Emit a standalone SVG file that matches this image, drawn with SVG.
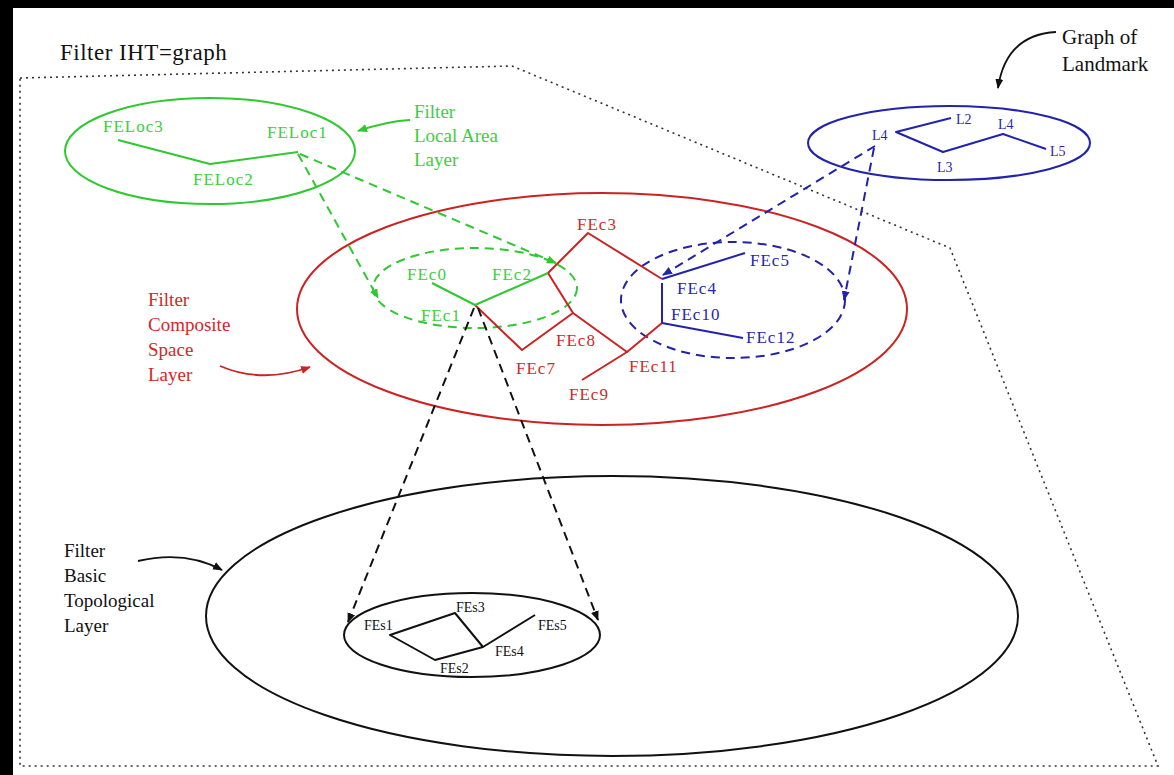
<svg xmlns="http://www.w3.org/2000/svg" width="1174" height="775" viewBox="0 0 1174 775">
  <style>
    text { font-family: "Liberation Serif", "Times New Roman", serif; }
    .lbl { font-size: 19px; }
    .node { font-size: 17px; letter-spacing: 1px; }
    .small { font-size: 14px; }
    .lm { font-size: 14px; }
    .g { fill: #3ccf3c; }
    .r { fill: #d22828; }
    .b { fill: #2626b0; }
    .k { fill: #111; }
    .gs { stroke: #30c830; }
    .rs { stroke: #cc2222; }
    .bs { stroke: #2222aa; }
    .ks { stroke: #111; }
    .layer { fill: none; stroke-width: 2; }
    .edge { fill: none; stroke-width: 2; stroke-linejoin: round; }
    .dash { fill: none; stroke-width: 2; stroke-dasharray: 9 6; }
    .curve { fill: none; stroke-width: 1.8; }
  </style>
  <defs>
    <marker id="ah-g" viewBox="0 0 10 10" refX="9" refY="5" markerWidth="10" markerHeight="10" markerUnits="userSpaceOnUse" orient="auto">
      <path d="M0,1 L10,5 L0,9 z" fill="#30c830"/>
    </marker>
    <marker id="ah-r" viewBox="0 0 10 10" refX="9" refY="5" markerWidth="10" markerHeight="10" markerUnits="userSpaceOnUse" orient="auto">
      <path d="M0,1 L10,5 L0,9 z" fill="#cc2222"/>
    </marker>
    <marker id="ah-b" viewBox="0 0 10 10" refX="9" refY="5" markerWidth="10" markerHeight="10" markerUnits="userSpaceOnUse" orient="auto">
      <path d="M0,1 L10,5 L0,9 z" fill="#2222aa"/>
    </marker>
    <marker id="ah-k" viewBox="0 0 10 10" refX="9" refY="5" markerWidth="10" markerHeight="10" markerUnits="userSpaceOnUse" orient="auto">
      <path d="M0,1 L10,5 L0,9 z" fill="#111"/>
    </marker>
  </defs>

  <!-- page -->
  <rect x="0" y="0" width="1174" height="775" fill="#000"/>
  <rect x="13" y="8" width="1161" height="767" fill="#fff"/>

  <!-- IHT-graph boundary -->
  <g id="iht-graph">
    <polygon points="20,78 512,66 950,248 1158,766 20,766" fill="none" stroke="#333" stroke-width="1.6" stroke-dasharray="2 4"/>
    <text class="k" x="60" y="60" font-size="23" letter-spacing="0.5">Filter IHT=graph</text>
  </g>

  <!-- Local area layer -->
  <g id="local-area-layer">
    <ellipse class="layer gs" cx="210" cy="151" rx="145" ry="53"/>
    <polyline class="edge gs" points="118,140 210,164 298,152"/>
    <text class="node g" x="103" y="132" font-size="15">FELoc3</text>
    <text class="node g" x="267" y="138">FELoc1</text>
    <text class="node g" x="193" y="185" font-size="15">FELoc2</text>
    <text class="lbl g" x="414" y="118">Filter</text>
    <text class="lbl g" x="414" y="142">Local Area</text>
    <text class="lbl g" x="414" y="166">Layer</text>
  </g>

  <!-- Landmark graph -->
  <g id="landmark-graph">
    <ellipse class="layer bs" cx="949" cy="143" rx="141" ry="37"/>
    <polyline class="edge bs" points="951,118 896,132 943,152 1003,134 1046,149"/>
    <text class="lm b" x="872" y="140">L4</text>
    <text class="lm b" x="956" y="124">L2</text>
    <text class="lm b" x="998" y="129">L4</text>
    <text class="lm b" x="1050" y="156">L5</text>
    <text class="lm b" x="937" y="172">L3</text>
    <text class="k" x="1062" y="44" font-size="21">Graph of</text>
    <text class="k" x="1062" y="71" font-size="21">Landmark</text>
  </g>

  <!-- Composite space layer -->
  <g id="composite-space-layer">
    <ellipse class="layer rs" cx="602" cy="309" rx="305" ry="116"/>
    <ellipse class="dash gs" cx="475" cy="288" rx="102" ry="40"/>
    <ellipse class="dash bs" cx="733" cy="300" rx="112" ry="58"/>
    <polyline class="edge rs" points="475,305 522,350 573,313 548,273 588,233 662,279"/>
    <polyline class="edge rs" points="573,313 627,352 662,323"/>
    <line class="edge rs" x1="627" y1="352" x2="582" y2="380"/>
    <polyline class="edge gs" points="432,283 475,305 548,273"/>
    <polyline class="edge bs" points="745,253 662,279"/>
    <line class="edge bs" x1="662" y1="283" x2="662" y2="323" stroke-width="3"/>
    <line class="edge bs" x1="662" y1="323" x2="743" y2="338"/>
    <text class="node g" x="407" y="280">FEc0</text>
    <text class="node g" x="492" y="280">FEc2</text>
    <text class="node g" x="421" y="321">FEc1</text>
    <text class="node r" x="577" y="230">FEc3</text>
    <text class="node r" x="556" y="346">FEc8</text>
    <text class="node r" x="516" y="374">FEc7</text>
    <text class="node r" x="569" y="400">FEc9</text>
    <text class="node r" x="629" y="372">FEc11</text>
    <text class="node b" x="750" y="266">FEc5</text>
    <text class="node b" x="677" y="294">FEc4</text>
    <text class="node b" x="671" y="320">FEc10</text>
    <text class="node b" x="746" y="343">FEc12</text>
    <text class="lbl r" x="148" y="306">Filter</text>
    <text class="lbl r" x="148" y="331">Composite</text>
    <text class="lbl r" x="148" y="356">Space</text>
    <text class="lbl r" x="148" y="381">Layer</text>
  </g>

  <!-- Basic topological layer -->
  <g id="basic-topological-layer">
    <ellipse class="layer ks" cx="612" cy="616" rx="406" ry="140"/>
    <ellipse class="layer ks" cx="472" cy="635" rx="128" ry="42"/>
    <polyline class="edge ks" points="535,615 483,647 455,613 390,635 435,660 483,647" stroke-width="1.6"/>
    <text class="small k" x="364" y="630">FEs1</text>
    <text class="small k" x="456" y="612">FEs3</text>
    <text class="small k" x="538" y="630">FEs5</text>
    <text class="small k" x="495" y="656">FEs4</text>
    <text class="small k" x="440" y="673">FEs2</text>
    <text class="lbl k" x="64" y="557">Filter</text>
    <text class="lbl k" x="64" y="582">Basic</text>
    <text class="lbl k" x="64" y="607">Topological</text>
    <text class="lbl k" x="64" y="632">Layer</text>
  </g>

  <!-- connectors -->
  <g id="connectors">
    <line class="dash gs" x1="298" y1="154" x2="378" y2="298" marker-end="url(#ah-g)"/>
    <line class="dash gs" x1="300" y1="154" x2="556" y2="263" marker-end="url(#ah-g)"/>
    <line class="dash ks" x1="474" y1="308" x2="348" y2="622" marker-end="url(#ah-k)"/>
    <line class="dash ks" x1="478" y1="308" x2="598" y2="620" marker-end="url(#ah-k)"/>
    <line class="dash bs" x1="875" y1="146" x2="663" y2="275" marker-end="url(#ah-b)"/>
    <line class="dash bs" x1="874" y1="148" x2="844" y2="300" marker-end="url(#ah-b)"/>
    <path class="curve gs" d="M410,120 Q388,121 358,131" marker-end="url(#ah-g)"/>
    <path class="curve rs" d="M220,366 Q262,384 310,367" marker-end="url(#ah-r)"/>
    <path class="curve ks" d="M138,561 Q185,550 222,570" marker-end="url(#ah-k)"/>
    <path class="curve ks" d="M1056,32 C1022,34 1003,54 998,88" marker-end="url(#ah-k)"/>
  </g>
</svg>
